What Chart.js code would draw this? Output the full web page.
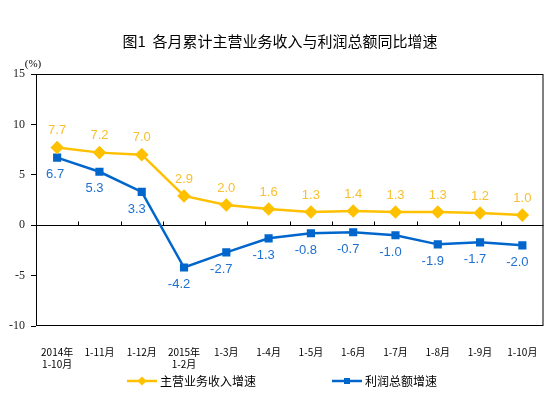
<!DOCTYPE html>
<html>
<head>
<meta charset="utf-8">
<script src="https://cdn.jsdelivr.net/npm/chart.js@4/dist/chart.umd.min.js"></script>
<style>
  html, body { margin: 0; padding: 0; background: #fff; }
  #wrap { width: 551px; height: 397px; position: relative; }
</style>
</head>
<body>
<div id="wrap"><canvas id="c"></canvas></div>
<script>
// chart data
const categories = [['2014年', '1-10月'], '1-11月', '1-12月', ['2015年', '1-2月'], '1-3月', '1-4月',
  '1-5月', '1-6月', '1-7月', '1-8月', '1-9月', '1-10月'];
const revenueGrowth = [7.7, 7.2, 7.0, 2.9, 2.0, 1.6, 1.3, 1.4, 1.3, 1.3, 1.2, 1.0];
const profitGrowth = [6.7, 5.3, 3.3, -4.2, -2.7, -1.3, -0.8, -0.7, -1.0, -1.9, -1.7, -2.0];
const yTicks = [-10, -5, 0, 5, 10, 15];

const TITLE = '图1  各月累计主营业务收入与利润总额同比增速';
const YELLOW = '#FFC000';
const BLUE = '#0066CC';
const CJK = '"Noto Sans CJK SC", "Liberation Sans", sans-serif';

// frame, zero line, labels, title, legend
const decor = {
  id: 'decor',
  beforeDatasetsDraw(chart) {
    const { ctx, chartArea: a, scales: { x, y } } = chart;
    ctx.save();
    ctx.strokeStyle = '#000';
    ctx.lineWidth = 1;
    ctx.strokeRect(a.left + 0.5, a.top + 0.5, a.right - a.left - 1, a.bottom - a.top - 1);
    const y0 = Math.round(y.getPixelForValue(0)) + 0.5;
    ctx.beginPath();
    ctx.moveTo(a.left, y0); ctx.lineTo(a.right, y0);
    for (let i = 1; i < categories.length; i++) {
      const px = Math.round(x.getPixelForValue(i - 0.5)) + 0.5;
      ctx.moveTo(px, y0); ctx.lineTo(px, y0 - 4);
    }
    ctx.stroke();
    ctx.restore();
  },
  afterDatasetsDraw(chart) {
    const { ctx, scales: { x, y } } = chart;
    ctx.save();
    ctx.font = '13px "Liberation Sans", Arial, sans-serif';
    ctx.textAlign = 'center';
    ctx.textBaseline = 'middle';
    revenueGrowth.forEach((v, i) => {
      ctx.fillStyle = '#F7C030';
      ctx.fillText(v.toFixed(1), x.getPixelForValue(i), y.getPixelForValue(v) - 17);
    });
    profitGrowth.forEach((v, i) => {
      ctx.fillStyle = '#2070D0';
      ctx.fillText(v.toFixed(1), x.getPixelForValue(i) - (i === 0 ? 2 : 5), y.getPixelForValue(v) + 17);
    });

    // title and unit
    ctx.fillStyle = '#000';
    ctx.font = '15px ' + CJK;
    ctx.fillText(TITLE, 280, 41);
    ctx.font = '11px "Liberation Serif", serif';
    ctx.fillText('(%)', 33, 64);

    // legend
    const items = [
      { x: 127, label: '主营业务收入增速', color: YELLOW, shape: 'diamond' },
      { x: 332, label: '利润总额增速', color: BLUE, shape: 'square' }
    ];
    const ly = 381;
    items.forEach(it => {
      ctx.strokeStyle = it.color;
      ctx.fillStyle = it.color;
      ctx.lineWidth = 2.5;
      ctx.beginPath(); ctx.moveTo(it.x, ly); ctx.lineTo(it.x + 30, ly); ctx.stroke();
      const cx = it.x + 15;
      ctx.beginPath();
      if (it.shape === 'diamond') {
        ctx.moveTo(cx, ly - 4.5); ctx.lineTo(cx + 4.5, ly); ctx.lineTo(cx, ly + 4.5); ctx.lineTo(cx - 4.5, ly);
        ctx.closePath(); ctx.fill();
      } else {
        ctx.fillRect(cx - 3, ly - 3, 6, 6);
      }
      ctx.fillStyle = '#000';
      ctx.font = '12px ' + CJK;
      ctx.textAlign = 'left';
      ctx.fillText(it.label, it.x + 33, ly);
    });
    ctx.restore();
  }
};

new Chart(document.getElementById('c'), {
  type: 'line',
  data: {
    labels: categories,
    datasets: [
      { label: '主营业务收入增速', data: revenueGrowth, borderColor: YELLOW, backgroundColor: YELLOW,
        borderWidth: 2.5, pointStyle: 'rectRot', pointRadius: 5, pointHoverRadius: 5, tension: 0 },
      { label: '利润总额增速', data: profitGrowth, borderColor: BLUE, backgroundColor: BLUE,
        borderWidth: 2.5, pointStyle: 'rect', pointRadius: 4, pointHoverRadius: 4, tension: 0 }
    ]
  },
  options: {
    responsive: true, maintainAspectRatio: false, animation: false,
    layout: { padding: { top: 74, right: 7, left: 0, bottom: 0 } },
    scales: {
      y: {
        min: -10, max: 15,
        afterBuildTicks: s => { s.ticks = yTicks.map(v => ({ value: v })); },
        afterFit: s => { s.width = 36; },
        grid: { drawOnChartArea: false, tickLength: 5, color: '#000' },
        border: { display: false },
        ticks: { color: '#222', padding: 6, font: { family: '"Liberation Serif", serif', size: 12 } }
      },
      x: {
        offset: true,
        afterFit: s => { s.height = 71; },
        grid: { display: false, offset: true },
        border: { display: false },
        ticks: { color: '#000', padding: 12, maxRotation: 0, autoSkip: false,
          font: { family: CJK, size: 10 }, lineHeight: 1.3 }
      }
    },
    plugins: { legend: { display: false }, tooltip: { enabled: false }, title: { display: false } }
  },
  plugins: [decor]
});
</script>
</body>
</html>
